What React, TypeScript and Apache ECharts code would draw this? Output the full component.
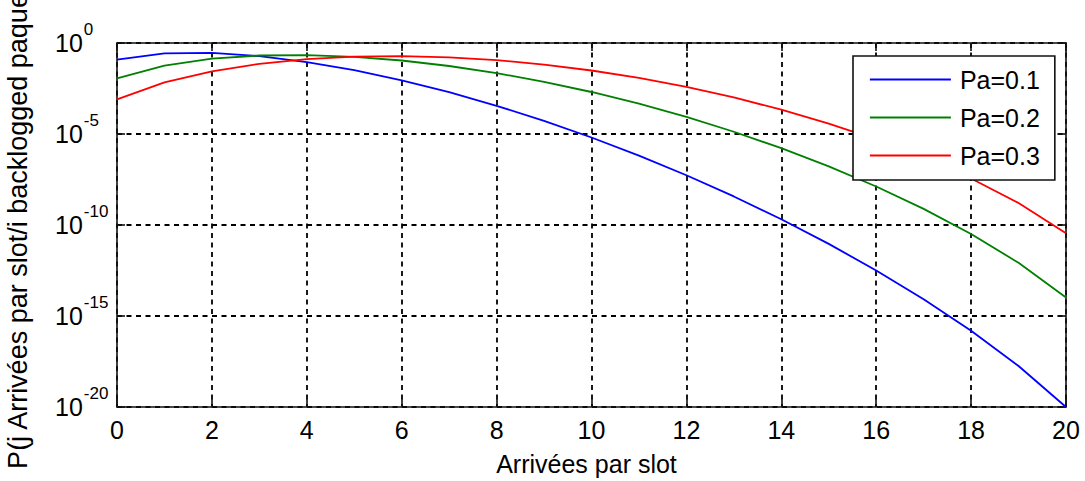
import React, { useEffect, useRef } from "react";
import * as echarts from "echarts";

const arrivals = [0, 1, 2, 3, 4, 5, 6, 7, 8, 9, 10, 11, 12, 13, 14, 15, 16, 17, 18, 19, 20];

const pa01 = [
  0.1216, 0.2702, 0.2852, 0.1901, 0.08978, 0.03192, 0.008867, 0.0019705, 3.5578e-4, 5.2708e-5,
  6.442e-6, 6.5071e-7, 5.4226e-8, 3.7078e-9, 2.0599e-10, 9.155e-12, 3.1788e-13, 8.3106e-15,
  1.539e-16, 1.8e-18, 1e-20,
];
const pa02 = [
  0.011529, 0.057646, 0.13691, 0.20536, 0.2182, 0.17456, 0.1091, 0.05455, 0.022161, 0.0073869,
  0.0020314, 4.6168e-4, 8.6566e-5, 1.3318e-5, 1.6647e-6, 1.6647e-7, 1.3006e-8, 7.6503e-10,
  3.1877e-11, 8.3886e-13, 1.0486e-14,
];
const pa03 = [
  7.9792e-4, 0.0068393, 0.027846, 0.071604, 0.13042, 0.17886, 0.19164, 0.16426, 0.1144, 0.06537,
  0.030817, 0.012007, 0.0038593, 0.0010178, 2.1811e-4, 3.739e-5, 5.0075e-6, 5.0496e-7, 3.6067e-8,
  1.6272e-9, 3.4868e-11,
];

const seriesNames = ["Pa=0.1", "Pa=0.2", "Pa=0.3"];
const seriesColors = ["#0000ff", "#008000", "#ff0000"];
const xTicks = [0, 2, 4, 6, 8, 10, 12, 14, 16, 18, 20];

const FONT = "'Liberation Sans', Arial, sans-serif";

export default function App() {
  const ref = useRef<HTMLDivElement>(null);
  useEffect(() => {
    if (!ref.current) return;
    const chart = echarts.init(ref.current, null, { renderer: "svg" });
    const allData = [pa01, pa02, pa03];
    const axisLine = { show: true, onZero: false, lineStyle: { color: "#111", width: 1.6 } };
    const axisTick = { show: true, inside: true, length: 8, lineStyle: { color: "#111", width: 1.6 } };
    const dashed = { show: true, lineStyle: { color: "#000", width: 1.8, type: [5, 4.5] as any } };
    const yBase = {
      type: "log" as const,
      logBase: 10,
      min: 1e-20,
      max: 1,
      interval: 5,
      axisLine,
      axisTick,
    };
    const xBase = {
      type: "value" as const,
      min: xTicks[0],
      max: xTicks[xTicks.length - 1],
      interval: 2,
      axisLine,
      axisTick,
    };
    chart.setOption({
      animation: false,
      backgroundColor: "#fff",
      textStyle: { fontFamily: FONT },
      grid: {
        left: 117,
        top: 43,
        right: 19,
        bottom: 74,
        containLabel: false,
        outerBoundsMode: "none",
      },
      xAxis: [
        {
          ...xBase,
          position: "bottom",
          splitLine: dashed,
          axisLabel: { color: "#000", fontSize: 25, fontFamily: FONT, margin: 10 },
          name: "Arrivées par slot",
          nameLocation: "middle",
          nameGap: 44,
          nameTextStyle: { color: "#000", fontSize: 25, fontFamily: FONT, padding: [0, 10, 0, 0] },
        },
        {
          ...xBase,
          position: "top",
          splitLine: { show: false },
          axisLabel: { show: false },
        },
      ],
      yAxis: [
        {
          ...yBase,
          position: "left",
          splitLine: dashed,
          axisLabel: {
            align: "left",
            margin: 62,
            formatter: (v: number) => `{b|10}{s|${Math.round(Math.log10(v))}}`,
            rich: {
              b: { fontSize: 25, color: "#000", fontFamily: FONT },
              s: { fontSize: 17, color: "#000", fontFamily: FONT, padding: [0, 0, 28, 1] },
            },
          },
          name: "P(j Arrivées par slot/i backlogged paquets)",
          nameLocation: "middle",
          nameGap: 86,
          nameTextStyle: { color: "#000", fontSize: 27, fontFamily: FONT, padding: [0, 0, 0, 18] },
        },
        {
          ...yBase,
          position: "right",
          splitLine: { show: false },
          axisLabel: { show: false },
        },
      ],
      legend: {
        orient: "vertical",
        left: 853,
        top: 56,
        padding: [11, 15, 12, 16],
        itemWidth: 81,
        itemHeight: 24,
        itemGap: 13,
        backgroundColor: "#fff",
        borderColor: "#111",
        borderWidth: 1.6,
        borderRadius: 0,
        itemStyle: { opacity: 0 },
        lineStyle: { width: 1.8 },
        textStyle: { color: "#000", fontSize: 25, fontFamily: FONT, padding: [0, 0, 0, 4] },
        data: seriesNames,
      },
      series: seriesNames.map((name, i) => ({
        name,
        type: "line",
        xAxisIndex: 0,
        yAxisIndex: 0,
        symbol: "none",
        showSymbol: false,
        lineStyle: { color: seriesColors[i], width: 1.8 },
        itemStyle: { color: seriesColors[i] },
        data: arrivals.map((x, k) => [x, allData[i][k]]),
      })),
    });
    return () => chart.dispose();
  }, []);
  return (
    <div
      ref={ref}
      style={{ position: "fixed", left: 0, top: 0, width: 1085, height: 481, background: "#fff" }}
    />
  );
}
